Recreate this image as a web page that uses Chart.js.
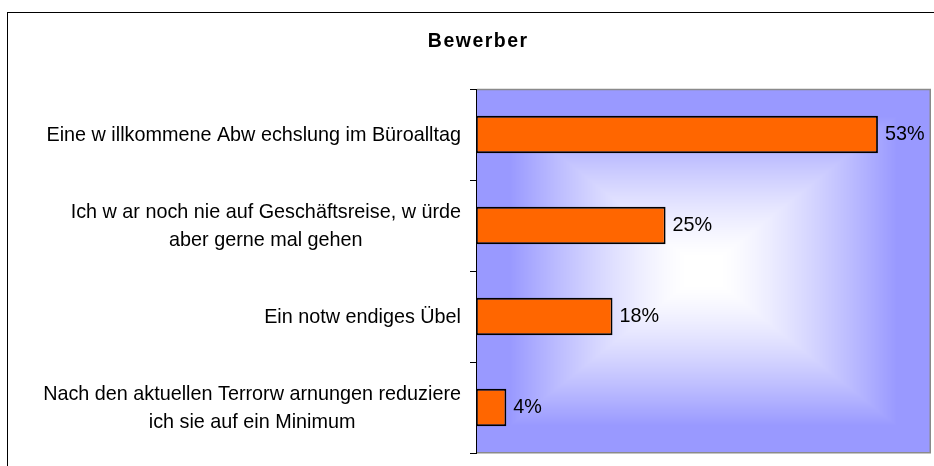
<!DOCTYPE html>
<html><head><meta charset="utf-8">
<script src="https://cdn.jsdelivr.net/npm/chart.js@4"></script>
<style>html,body{margin:0;padding:0;background:#fff;overflow:hidden}#wrap{width:934px;height:466px}</style>
</head><body><div id="wrap"><canvas id="c" width="934" height="466"></canvas></div>
<script>
const chartTitle = 'Bewerber';
const categories = [
  ['Eine w illkommene Abw echslung im Büroalltag'],
  ['Ich w ar noch nie auf Geschäftsreise, w ürde', 'aber gerne mal gehen'],
  ['Ein notw endiges Übel'],
  ['Nach den aktuellen Terrorw arnungen reduziere', 'ich sie auf ein Minimum']
];
const values = [53, 25, 18, 4];
const axisMin = 0;
const axisMax = 60;

const FONT = "'Liberation Sans', Arial, sans-serif";
const LABEL_SIZE = 19.8;

const decor = {
  id: 'decor',
  beforeDraw(chart) {
    const {ctx, chartArea: a} = chart;
    ctx.save();
    ctx.fillStyle = '#fff';
    ctx.fillRect(0, 0, chart.width, chart.height);
    ctx.strokeStyle = '#000';
    ctx.lineWidth = 1;
    ctx.strokeRect(7.5, 12.5, 1000, 1000);
    // plot background: rectangular gradient from center
    const w = Math.round(a.right - a.left), h = Math.round(a.bottom - a.top);
    const off = document.createElement('canvas');
    off.width = w; off.height = h;
    const octx = off.getContext('2d');
    const img = octx.createImageData(w, h);
    const hw = w / 2, hh = h / 2;
    for (let y = 0; y < h; y++) {
      for (let x = 0; x < w; x++) {
        const t = Math.max(Math.abs(x + 0.5 - hw) / hw, Math.abs(y + 0.5 - hh) / hh);
        let f = Math.min(1, Math.max(0, (t - 0.07) / 0.78));
        f = Math.pow(f, 1.35);
        const i = (y * w + x) * 4;
        img.data[i] = 255 - 102 * f;
        img.data[i + 1] = 255 - 102 * f;
        img.data[i + 2] = 255;
        img.data[i + 3] = 255;
      }
    }
    octx.putImageData(img, 0, 0);
    ctx.drawImage(off, a.left, a.top);
    // title
    ctx.fillStyle = '#000';
    ctx.font = `bold 19.5px ${FONT}`;
    ctx.letterSpacing = '1.5px';
    const tw = ctx.measureText(chartTitle).width - 1.5;
    ctx.textAlign = 'left';
    ctx.textBaseline = 'alphabetic';
    ctx.fillText(chartTitle, 477.5 - tw / 2, 47);
    ctx.letterSpacing = '0px';
    ctx.restore();
  },
  beforeDatasetsDraw(chart) {
    const {ctx, chartArea: a} = chart;
    ctx.save();
    ctx.strokeStyle = '#8a8a8a';
    ctx.lineWidth = 1.5;
    ctx.beginPath();
    ctx.moveTo(a.left + 1, a.top + 0.5);
    ctx.lineTo(a.right - 0.75, a.top + 0.5);
    ctx.lineTo(a.right - 0.75, a.bottom - 0.25);
    ctx.lineTo(a.left + 1, a.bottom - 0.25);
    ctx.stroke();
    ctx.restore();
  },
  afterDatasetsDraw(chart) {
    const {ctx} = chart;
    const meta = chart.getDatasetMeta(0);
    const yScale = chart.scales.y;
    ctx.save();
    ctx.fillStyle = '#000';
    ctx.font = `${LABEL_SIZE}px ${FONT}`;
    ctx.textBaseline = 'alphabetic';
    // value labels
    ctx.textAlign = 'left';
    meta.data.forEach((bar, i) => {
      ctx.fillText(values[i] + '%', bar.x + 7, bar.y + 5);
    });
    // category labels: block right-aligned, lines centered
    const rightEdge = 461;
    const lineH = 28;
    ctx.textAlign = 'center';
    categories.forEach((lines, i) => {
      const cy = yScale.getPixelForValue(i);
      const bw = Math.max(...lines.map(l => ctx.measureText(l).width));
      const cx = rightEdge - bw / 2;
      lines.forEach((l, j) => {
        const ly = cy + (j - (lines.length - 1) / 2) * lineH - 1;
        ctx.fillText(l, cx, ly + 7);
      });
    });
    ctx.restore();
  }
};

new Chart(document.getElementById('c'), {
  type: 'bar',
  data: {
    labels: categories,
    datasets: [{
      data: values,
      backgroundColor: '#FF6600',
      borderColor: '#000',
      borderWidth: 1.8,
      borderSkipped: false,
      barPercentage: 0.41,
      categoryPercentage: 1
    }]
  },
  options: {
    indexAxis: 'y',
    responsive: false,
    animation: false,
    devicePixelRatio: 1,
    layout: {padding: {left: 0, top: 89, right: 3, bottom: 13}},
    plugins: {legend: {display: false}, tooltip: {enabled: false}, title: {display: false}},
    scales: {
      x: {display: false, min: axisMin, max: axisMax},
      y: {
        offset: true,
        ticks: {display: false},
        grid: {offset: true, drawOnChartArea: false, drawTicks: true, tickLength: 6, color: '#000', lineWidth: 1},
        border: {display: true, color: '#000', width: 1},
        afterFit(scale) { scale.width = 476; }
      }
    }
  },
  plugins: [decor]
});
</script>
</body></html>
